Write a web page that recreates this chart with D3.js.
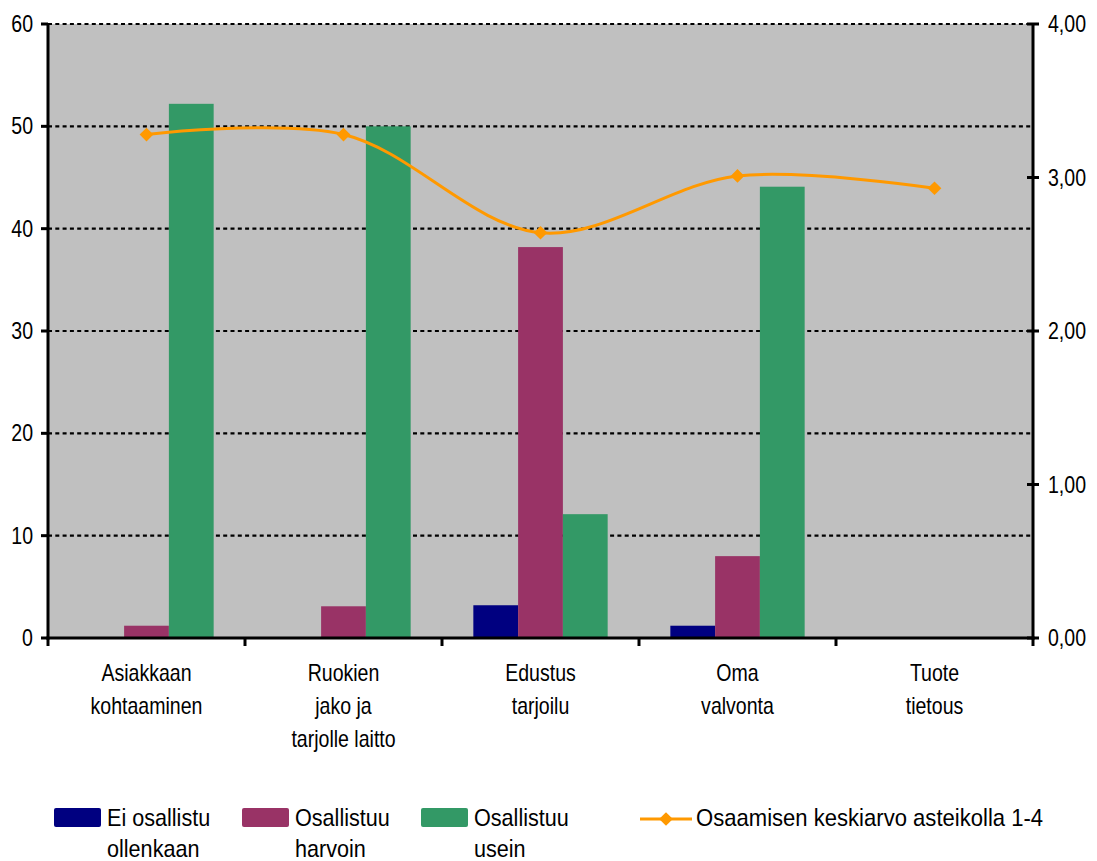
<!DOCTYPE html>
<html><head><meta charset="utf-8">
<script src="https://cdn.jsdelivr.net/npm/d3@7"></script>
<style>body{margin:0;background:#fff}svg{display:block}text{font-family:"Liberation Sans",Arial,sans-serif;fill:#000}</style>
</head><body><svg id="c" width="1097" height="861"></svg>
<script>
const categories = [["Asiakkaan","kohtaaminen"],["Ruokien","jako ja","tarjolle laitto"],["Edustus","tarjoilu"],["Oma","valvonta"],["Tuote","tietous"]];
const seriesNames = [["Ei osallistu","ollenkaan"],["Osallistuu","harvoin"],["Osallistuu","usein"]];
const eiOsallistu = [0, 0, 3.2, 1.2, 0];
const harvoin = [1.2, 3.1, 38.2, 8.0, 0];
const usein = [52.2, 50.0, 12.1, 44.1, 0];
const keskiarvo = [3.28, 3.28, 2.64, 3.01, 2.93];
const lineName = "Osaamisen keskiarvo asteikolla 1-4";
const leftTicks = [0,10,20,30,40,50,60];
const rightTicks = [0,1,2,3,4];
const colors = ["#000080","#993366","#339966"];
const lineColor = "#FF9900";

const svg = d3.select("#c");
const L=48, R=1033, T=24, B=638;
const keys = categories.map((c,i)=>i);
const x0 = d3.scaleBand().domain(keys).range([L,R]);
const x1 = d3.scaleBand().domain([0,1,2]).range([0,x0.bandwidth()]).paddingOuter(0.7);
const y = d3.scaleLinear().domain([0,60]).range([B,T]);
const y2 = d3.scaleLinear().domain([0,4]).range([B,T]);
const series = [eiOsallistu, harvoin, usein];

function txt(g, x, yy, s, size, sx, anchor){
  return g.append("text").attr("transform",`translate(${x},${yy}) scale(${sx},1)`)
    .attr("text-anchor",anchor).style("font-size",size+"px").text(s);
}

svg.append("rect").attr("x",L).attr("y",T).attr("width",R-L).attr("height",B-T).attr("fill","#C0C0C0");

// gridlines
svg.append("g").selectAll("line").data(leftTicks.filter(d=>d>0)).join("line")
  .attr("x1",L).attr("x2",R).attr("y1",d=>y(d)).attr("y2",d=>y(d))
  .attr("stroke","#000").attr("stroke-width",2.2).attr("stroke-dasharray","4,3.3");

// bars
series.forEach((vals,si)=>{
  svg.append("g").selectAll("rect").data(vals.map((v,i)=>({v,i}))).join("rect")
    .attr("x",d=>x0(d.i)+x1(si)).attr("width",x1.bandwidth())
    .attr("y",d=>y(d.v)).attr("height",d=>B-y(d.v)).attr("fill",colors[si]);
});

// axes lines
svg.append("line").attr("x1",L).attr("x2",L).attr("y1",T).attr("y2",B+1.5).attr("stroke","#000").attr("stroke-width",3);
svg.append("line").attr("x1",R).attr("x2",R).attr("y1",T).attr("y2",B+1.5).attr("stroke","#000").attr("stroke-width",3);
svg.append("line").attr("x1",L-1.5).attr("x2",R+1.5).attr("y1",B).attr("y2",B).attr("stroke","#000").attr("stroke-width",3);

// left ticks
const lt = svg.append("g");
leftTicks.forEach(t=>{
  lt.append("line").attr("x1",L-7).attr("x2",L).attr("y1",y(t)).attr("y2",y(t)).attr("stroke","#000").attr("stroke-width",3);
  txt(lt, 33, y(t)+8, String(t), 23, 0.85, "end");
});
// right ticks
const fmt = d=>d3.format(".2f")(d).replace(".",",");
rightTicks.forEach(t=>{
  lt.append("line").attr("x1",R-6).attr("x2",R+6).attr("y1",y2(t)).attr("y2",y2(t)).attr("stroke","#000").attr("stroke-width",3);
  txt(lt, 1048, y2(t)+8, fmt(t), 23, 0.85, "start");
});
// bottom ticks
x0.domain().concat(["end"]).forEach((k,i)=>{
  const xx = k==="end"?R:x0(k);
  lt.append("line").attr("x1",xx).attr("x2",xx).attr("y1",B).attr("y2",B+8).attr("stroke","#000").attr("stroke-width",3);
});
// category labels
categories.forEach((lines,i)=>{
  lines.forEach((s,j)=>txt(lt, x0(i)+x0.bandwidth()/2, 681+j*33, s, 23, 0.85, "middle"));
});

// line
const pts = keskiarvo.map((v,i)=>[x0(i)+x0.bandwidth()/2, y2(v)]);
svg.append("path").attr("d",d3.line().curve(d3.curveCatmullRom.alpha(0.5))(pts))
  .attr("fill","none").attr("stroke",lineColor).attr("stroke-width",3);
svg.append("g").selectAll("path").data(pts).join("path")
  .attr("transform",d=>`translate(${d[0]},${d[1]})`)
  .attr("d",d3.symbol(d3.symbolDiamond2,120)).attr("fill",lineColor);

// legend
const lg = svg.append("g");
const sw = [54, 242, 421];
seriesNames.forEach((lines,i)=>{
  lg.append("rect").attr("x",sw[i]).attr("y",808).attr("width",47).attr("height",19).attr("rx",2).attr("fill",colors[i]);
  lines.forEach((s,j)=>txt(lg, sw[i]+53, 826+j*31, s, 24, 0.9, "start"));
});
lg.append("line").attr("x1",640).attr("x2",692).attr("y1",819).attr("y2",819).attr("stroke",lineColor).attr("stroke-width",3);
lg.append("path").attr("transform","translate(666,819)").attr("d",d3.symbol(d3.symbolDiamond2,120)).attr("fill",lineColor);
txt(lg, 696, 826, lineName, 24, 0.92, "start");
</script></body></html>
